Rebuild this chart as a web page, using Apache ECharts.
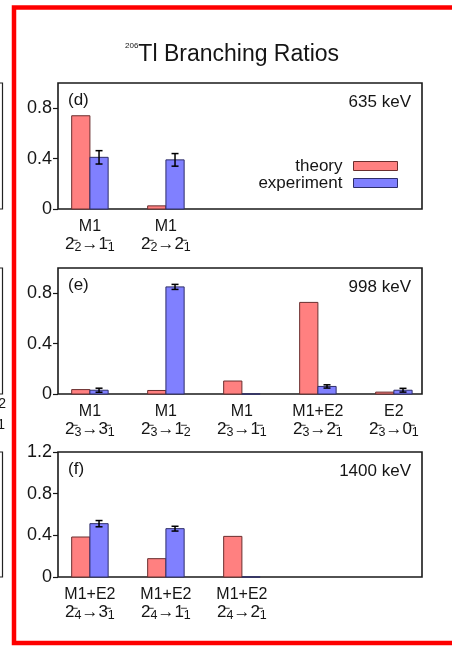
<!DOCTYPE html>
<html><head><meta charset="utf-8">
<script src="https://cdn.jsdelivr.net/npm/echarts@6/dist/echarts.min.js"></script>
<style>html,body{margin:0;padding:0;background:#fff;overflow:hidden}#c{width:452px;height:646px}</style>
</head><body><div id="c"></div>
<script>
// ---------- data ----------
// Panel (d) 635 keV
const typesD = ['M1', 'M1'];
const transD = ['2_2→1_1', '2_2→2_1'];
const theoryD = [0.74, 0.025];
const expD = [0.41, 0.39];
const errD = [0.053, 0.05];
// Panel (e) 998 keV
const typesE = ['M1', 'M1', 'M1', 'M1+E2', 'E2'];
const transE = ['2_3→3_1', '2_3→1_2', '2_3→1_1', '2_3→2_1', '2_3→0_1'];
const theoryE = [0.035, 0.028, 0.103, 0.727, 0.015];
const expE = [0.03, 0.85, 0, 0.06, 0.03];
const errE = [0.016, 0.02, 0, 0.013, 0.015];
// Panel (f) 1400 keV
const typesF = ['M1+E2', 'M1+E2', 'M1+E2'];
const transF = ['2_4→3_1', '2_4→1_1', '2_4→2_1'];
const theoryF = [0.384, 0.176, 0.39];
const expF = [0.512, 0.464, 0];
const errF = [0.03, 0.023, 0];
// y ticks
const yTicksDE = { min: 0, max: 1.0, interval: 0.4 };
const yTicksF = { min: 0, max: 1.2, interval: 0.4 };
const panelLabels = ['(d)', '(e)', '(f)'];
const energyLabels = ['635 keV', '998 keV', '1400 keV'];
const legendNames = ['theory', 'experiment'];

// ---------- style ----------
const FONT = '"Liberation Sans", Arial, Helvetica, sans-serif';
const INK = '#151515';
const TH_FILL = '#FF8080', TH_EDGE = '#6a2e2e';
const EX_FILL = '#8080FF', EX_EDGE = '#2e2e6a';
const BAR_W = 0.24;
const GRID_TOPS = [83, 268, 452];
const GRID_H = [126, 126, 125];

function richLabel(type, tr) {
  const [a, b] = tr.split('→');
  const part = s => { const [n, sub] = s.split('_'); return '{n|' + n + '}{s|−}{b|' + sub + '}'; };
  return '{t|' + type + '}\n' + part(a) + '{n|→}' + part(b);
}
const labelRich = {
  t: { fontSize: 16, lineHeight: 17, align: 'center', color: INK, fontFamily: FONT },
  n: { fontSize: 17, lineHeight: 19, color: INK, fontFamily: FONT },
  s: { fontSize: 12, lineHeight: 8, verticalAlign: 'top', width: 0, color: INK, fontFamily: FONT },
  b: { fontSize: 12.5, lineHeight: 11, verticalAlign: 'bottom', color: INK, fontFamily: FONT }
};

function makeX(idx, types, trans) {
  return {
    type: 'value', gridIndex: idx, min: -0.42, max: 4.37,
    axisLine: { show: false, onZero: false }, axisTick: { show: false }, splitLine: { show: false },
    axisLabel: {
      margin: 9, showMinLabel: false, showMaxLabel: false,
      formatter: v => {
        const i = Math.round(v);
        if (Math.abs(v - i) > 1e-6 || i < 0 || i >= types.length) return '';
        return richLabel(types[i], trans[i]);
      },
      rich: labelRich
    }
  };
}
function makeY(idx, t, showMax) {
  return {
    type: 'value', gridIndex: idx, min: t.min, max: t.max, interval: t.interval,
    axisLine: { show: false, onZero: false }, splitLine: { show: false },
    axisTick: { show: true, inside: false, length: 5, lineStyle: { color: INK, width: 1.2 } },
    axisLabel: {
      margin: 6, showMaxLabel: showMax, fontSize: 18, color: INK, fontFamily: FONT,
      formatter: v => (Math.abs(v) < 1e-9 ? '0' : String(+v.toFixed(1)))
    }
  };
}
function theorySeries(idx, vals) {
  return {
    type: 'custom', name: 'theory', xAxisIndex: idx, yAxisIndex: idx,
    data: vals.map((v, i) => [i, v]),
    itemStyle: { color: TH_FILL, borderColor: TH_EDGE },
    renderItem(params, api) {
      const x = api.value(0), v = api.value(1);
      const p0 = api.coord([x - BAR_W, 0]), p1 = api.coord([x, v]);
      return { type: 'rect', shape: { x: p0[0], y: p1[1], width: p1[0] - p0[0], height: p0[1] - p1[1] },
        style: { fill: TH_FILL, stroke: TH_EDGE, lineWidth: 1 } };
    }
  };
}
function expSeries(idx, vals, errs) {
  return {
    type: 'custom', name: 'experiment', xAxisIndex: idx, yAxisIndex: idx,
    data: vals.map((v, i) => [i, v, errs[i]]),
    itemStyle: { color: EX_FILL, borderColor: EX_EDGE },
    renderItem(params, api) {
      const x = api.value(0), v = api.value(1), e = api.value(2);
      const p0 = api.coord([x, 0]), p1 = api.coord([x + BAR_W, v]);
      const children = [{ type: 'rect', shape: { x: p0[0], y: p1[1], width: p1[0] - p0[0], height: p0[1] - p1[1] },
        style: { fill: EX_FILL, stroke: EX_EDGE, lineWidth: 1 } }];
      if (e > 0) {
        const c = api.coord([x + BAR_W / 2, v + e]), d = api.coord([x + BAR_W / 2, v - e]);
        const cap = 3.5;
        const st = { stroke: '#000', lineWidth: 1.5 };
        children.push({ type: 'line', shape: { x1: c[0], y1: c[1], x2: d[0], y2: d[1] }, style: st });
        children.push({ type: 'line', shape: { x1: c[0] - cap, y1: c[1], x2: c[0] + cap, y2: c[1] }, style: st });
        children.push({ type: 'line', shape: { x1: d[0] - cap, y1: d[1], x2: d[0] + cap, y2: d[1] }, style: st });
      }
      return { type: 'group', children };
    }
  };
}

const grids = GRID_TOPS.map((t, i) => ({
  left: 58, right: 30, top: t, height: GRID_H[i],
  show: true, borderColor: '#1a1a1a', borderWidth: 1.6, backgroundColor: 'transparent'
}));

const graphics = [
  { type: 'polyline', shape: { points: [[470, 7.5], [14, 7.5], [14, 643], [470, 643]] },
    style: { fill: 'none', stroke: '#FE0000', lineWidth: 4.5, lineJoin: 'miter' } }
];
GRID_TOPS.forEach((t, i) => {
  const b = t + GRID_H[i];
  graphics.push({ type: 'polyline', shape: { points: [[0, t], [2.5, t], [2.5, b], [0, b]] }, style: { fill: 'none', stroke: '#222', lineWidth: 1.2 } });
  graphics.push({ type: 'text', x: 68, y: t + 17, style: { text: panelLabels[i], fontSize: 17, fontFamily: FONT, fill: INK, verticalAlign: 'middle', align: 'left' } });
  graphics.push({ type: 'text', x: 411, y: t + 19, style: { text: energyLabels[i], fontSize: 17, fontFamily: FONT, fill: INK, verticalAlign: 'middle', align: 'right' } });
});
graphics.push({ type: 'text', x: 6, y: 404, style: { text: '2', fontSize: 14, fontFamily: FONT, fill: INK, verticalAlign: 'middle', align: 'right' } });
graphics.push({ type: 'text', x: 5, y: 425, style: { text: '1', fontSize: 14, fontFamily: FONT, fill: INK, verticalAlign: 'middle', align: 'right' } });

const option = {
  animation: false,
  backgroundColor: '#fff',
  title: {
    text: '{sup|206}{main|Tl Branching Ratios}', left: 125, top: 42, padding: 0,
    textStyle: { fontWeight: 'normal', rich: {
      sup: { fontSize: 8, lineHeight: 10, verticalAlign: 'top', fontWeight: 'normal', color: INK, fontFamily: FONT },
      main: { fontSize: 23, lineHeight: 26, fontWeight: 'normal', color: INK, fontFamily: FONT }
    } }
  },
  legend: {
    orient: 'vertical', right: 54, top: 157.5, padding: 0, itemGap: 0,
    itemWidth: 44, itemHeight: 9, align: 'right', selectedMode: false,
    textStyle: { fontSize: 17, lineHeight: 12, color: INK, fontFamily: FONT, padding: [0, 6, 0, 0] },
    data: [
      { name: legendNames[0], icon: 'rect', itemStyle: { color: TH_FILL, borderColor: TH_EDGE, borderWidth: 1 } },
      { name: legendNames[1], icon: 'rect', itemStyle: { color: EX_FILL, borderColor: EX_EDGE, borderWidth: 1 } }
    ]
  },
  grid: grids,
  xAxis: [makeX(0, typesD, transD), makeX(1, typesE, transE), makeX(2, typesF, transF)],
  yAxis: [makeY(0, yTicksDE, false), makeY(1, yTicksDE, false), makeY(2, yTicksF, true)],
  series: [
    theorySeries(0, theoryD), expSeries(0, expD, errD),
    theorySeries(1, theoryE), expSeries(1, expE, errE),
    theorySeries(2, theoryF), expSeries(2, expF, errF)
  ],
  graphic: graphics
};
const chart = echarts.init(document.getElementById('c'), null, { renderer: 'canvas' });
chart.setOption(option);
</script>
</body></html>
